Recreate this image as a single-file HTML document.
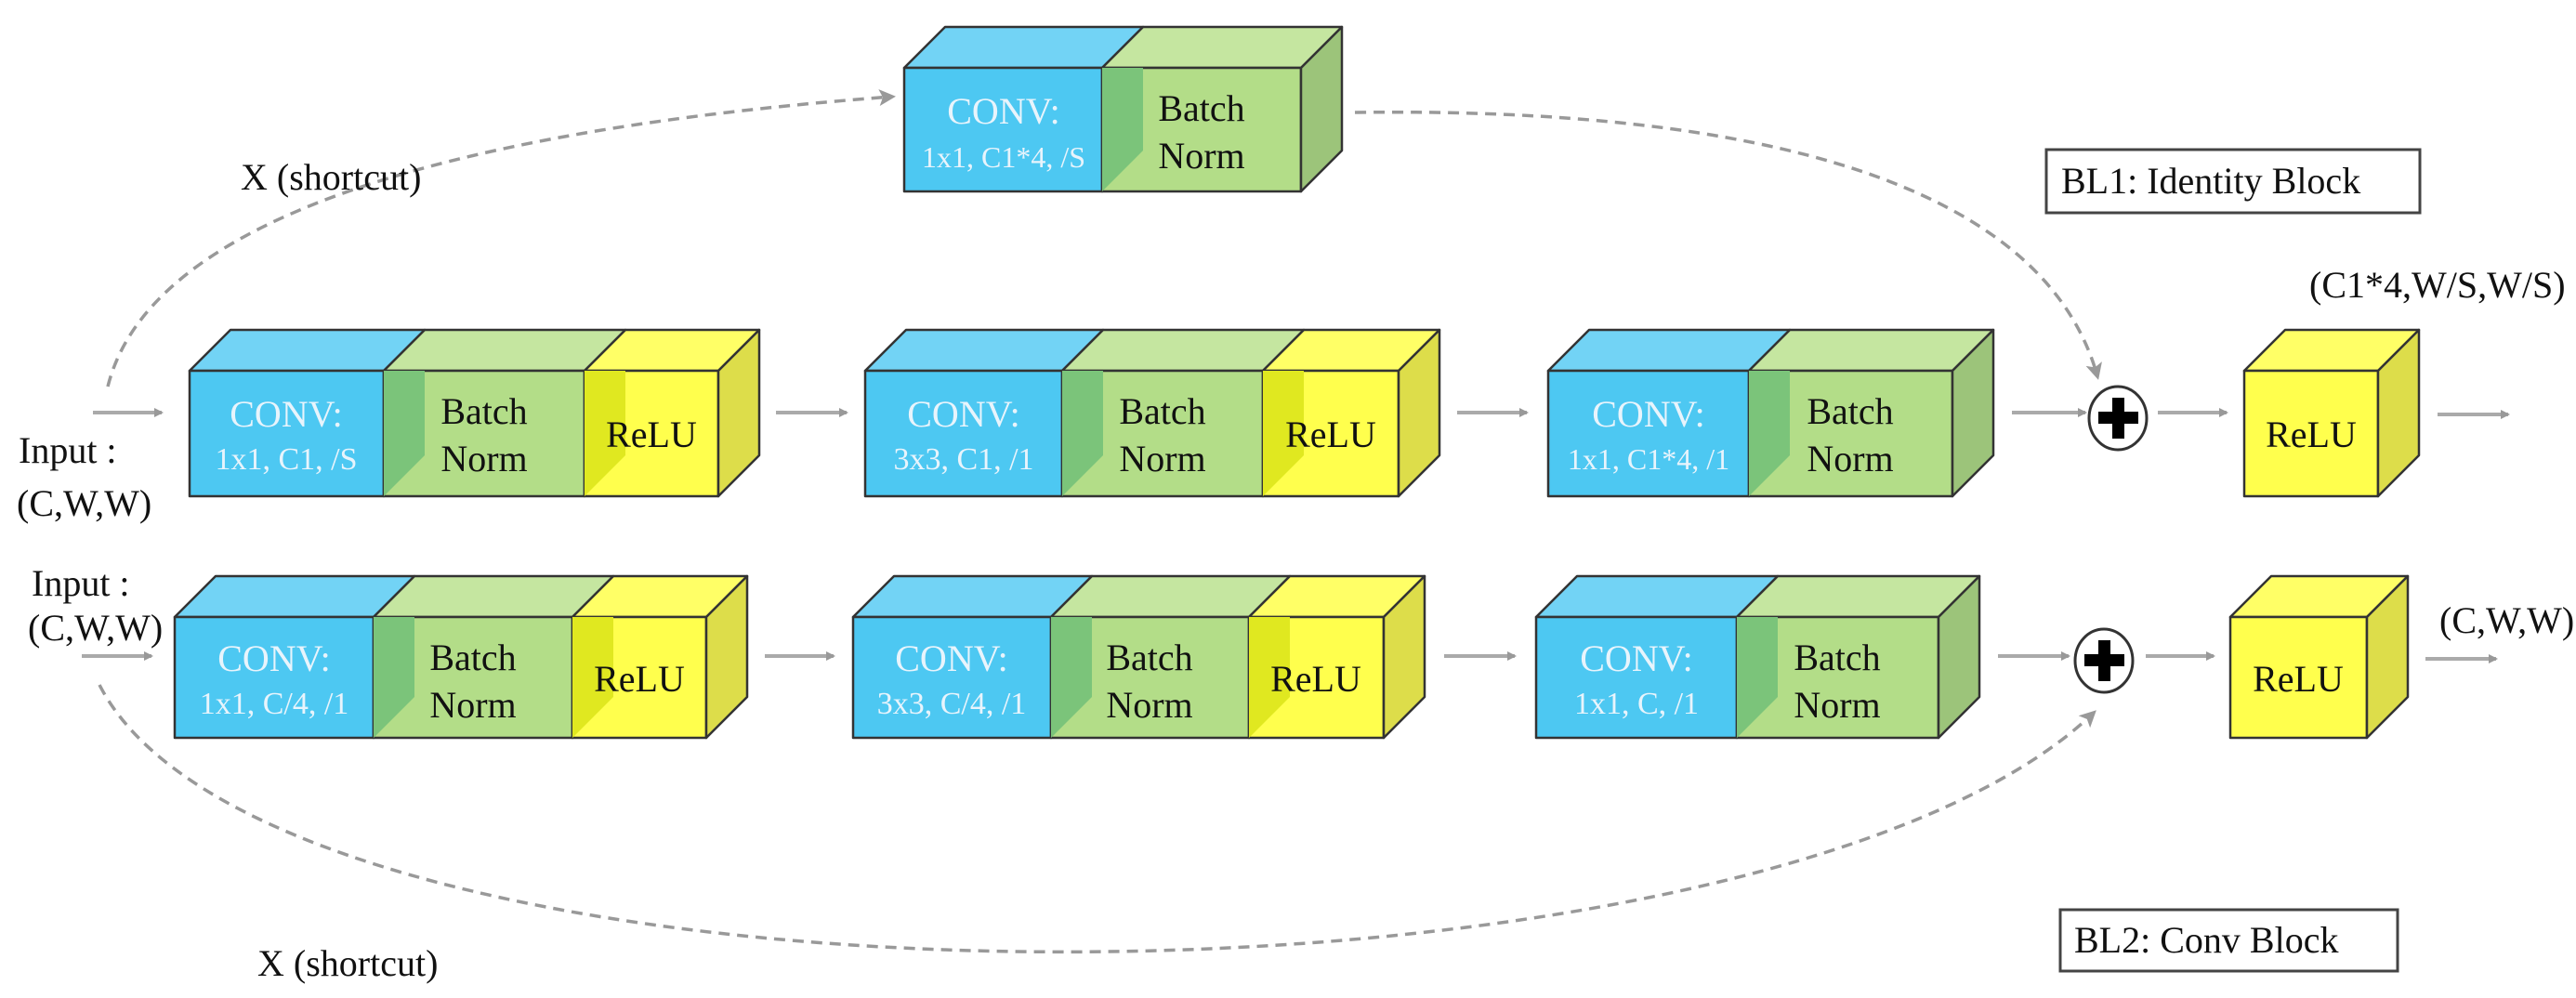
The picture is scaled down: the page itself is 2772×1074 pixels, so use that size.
<!DOCTYPE html>
<html><head><meta charset="utf-8"><style>
html,body{margin:0;padding:0;background:#fff;}
svg{display:block;}
text{font-family:"Liberation Serif",serif;}
</style></head><body>
<svg width="2772" height="1074" viewBox="0 0 2772 1074" xmlns="http://www.w3.org/2000/svg">
<defs>
<marker id="ah" markerWidth="10" markerHeight="10" refX="8" refY="5" orient="auto" markerUnits="userSpaceOnUse" viewBox="0 0 10 10">
<path d="M0,0 L10,5 L0,10 z" fill="#999"/></marker>
<marker id="ah2" markerWidth="18" markerHeight="18" refX="14" refY="9" orient="auto" markerUnits="userSpaceOnUse" viewBox="0 0 18 18">
<path d="M0,0 L18,9 L0,18 L4,9 z" fill="#999"/></marker>
</defs>
<g stroke="#333" stroke-width="2.5" stroke-linejoin="round">

<polygon points="973,73 1017,29 1230,29 1186,73" fill="#72D3F5"/>
<rect x="973" y="73" width="213" height="133" fill="#4DC8F2"/>
<polygon points="1186,73 1230,29 1444,29 1400,73" fill="#C5E6A0"/>
<rect x="1186" y="73" width="214" height="133" fill="#B3DD88"/>
<polygon points="1186,73 1230,73 1230,162 1186,206" fill="#7BC47A" stroke="none"/>
<polygon points="1400,73 1444,29 1444,162 1400,206" fill="#9CC47A"/>

<polygon points="204,399 248,355 457,355 413,399" fill="#72D3F5"/>
<rect x="204" y="399" width="209" height="135" fill="#4DC8F2"/>
<polygon points="413,399 457,355 673,355 629,399" fill="#C5E6A0"/>
<rect x="413" y="399" width="216" height="135" fill="#B3DD88"/>
<polygon points="413,399 457,399 457,490 413,534" fill="#7BC47A" stroke="none"/>
<polygon points="629,399 673,355 817,355 773,399" fill="#FFFF66"/>
<rect x="629" y="399" width="144" height="135" fill="#FFFF4D"/>
<polygon points="629,399 673,399 673,490 629,534" fill="#E0E820" stroke="none"/>
<polygon points="773,399 817,355 817,490 773,534" fill="#DDDD4A"/>

<polygon points="931,399 975,355 1187,355 1143,399" fill="#72D3F5"/>
<rect x="931" y="399" width="212" height="135" fill="#4DC8F2"/>
<polygon points="1143,399 1187,355 1403,355 1359,399" fill="#C5E6A0"/>
<rect x="1143" y="399" width="216" height="135" fill="#B3DD88"/>
<polygon points="1143,399 1187,399 1187,490 1143,534" fill="#7BC47A" stroke="none"/>
<polygon points="1359,399 1403,355 1549,355 1505,399" fill="#FFFF66"/>
<rect x="1359" y="399" width="146" height="135" fill="#FFFF4D"/>
<polygon points="1359,399 1403,399 1403,490 1359,534" fill="#E0E820" stroke="none"/>
<polygon points="1505,399 1549,355 1549,490 1505,534" fill="#DDDD4A"/>

<polygon points="1666,399 1710,355 1926,355 1882,399" fill="#72D3F5"/>
<rect x="1666" y="399" width="216" height="135" fill="#4DC8F2"/>
<polygon points="1882,399 1926,355 2145,355 2101,399" fill="#C5E6A0"/>
<rect x="1882" y="399" width="219" height="135" fill="#B3DD88"/>
<polygon points="1882,399 1926,399 1926,490 1882,534" fill="#7BC47A" stroke="none"/>
<polygon points="2101,399 2145,355 2145,490 2101,534" fill="#9CC47A"/>

<polygon points="2415,399 2459,355 2603,355 2559,399" fill="#FFFF66"/>
<rect x="2415" y="399" width="144" height="135" fill="#FFFF4D"/>
<polygon points="2559,399 2603,355 2603,490 2559,534" fill="#DDDD4A"/>

<polygon points="188,664 232,620 446,620 402,664" fill="#72D3F5"/>
<rect x="188" y="664" width="214" height="130" fill="#4DC8F2"/>
<polygon points="402,664 446,620 660,620 616,664" fill="#C5E6A0"/>
<rect x="402" y="664" width="214" height="130" fill="#B3DD88"/>
<polygon points="402,664 446,664 446,750 402,794" fill="#7BC47A" stroke="none"/>
<polygon points="616,664 660,620 804,620 760,664" fill="#FFFF66"/>
<rect x="616" y="664" width="144" height="130" fill="#FFFF4D"/>
<polygon points="616,664 660,664 660,750 616,794" fill="#E0E820" stroke="none"/>
<polygon points="760,664 804,620 804,750 760,794" fill="#DDDD4A"/>

<polygon points="918,664 962,620 1175,620 1131,664" fill="#72D3F5"/>
<rect x="918" y="664" width="213" height="130" fill="#4DC8F2"/>
<polygon points="1131,664 1175,620 1388,620 1344,664" fill="#C5E6A0"/>
<rect x="1131" y="664" width="213" height="130" fill="#B3DD88"/>
<polygon points="1131,664 1175,664 1175,750 1131,794" fill="#7BC47A" stroke="none"/>
<polygon points="1344,664 1388,620 1533,620 1489,664" fill="#FFFF66"/>
<rect x="1344" y="664" width="145" height="130" fill="#FFFF4D"/>
<polygon points="1344,664 1388,664 1388,750 1344,794" fill="#E0E820" stroke="none"/>
<polygon points="1489,664 1533,620 1533,750 1489,794" fill="#DDDD4A"/>

<polygon points="1653,664 1697,620 1913,620 1869,664" fill="#72D3F5"/>
<rect x="1653" y="664" width="216" height="130" fill="#4DC8F2"/>
<polygon points="1869,664 1913,620 2130,620 2086,664" fill="#C5E6A0"/>
<rect x="1869" y="664" width="217" height="130" fill="#B3DD88"/>
<polygon points="1869,664 1913,664 1913,750 1869,794" fill="#7BC47A" stroke="none"/>
<polygon points="2086,664 2130,620 2130,750 2086,794" fill="#9CC47A"/>

<polygon points="2400,664 2444,620 2591,620 2547,664" fill="#FFFF66"/>
<rect x="2400" y="664" width="147" height="130" fill="#FFFF4D"/>
<polygon points="2547,664 2591,620 2591,750 2547,794" fill="#DDDD4A"/>
</g>

<g stroke="#aaa" stroke-width="4" fill="none" marker-end="url(#ah)">
<line x1="100" y1="444" x2="174" y2="444"/>
<line x1="835" y1="444" x2="911" y2="444"/>
<line x1="1568" y1="444" x2="1643" y2="444"/>
<line x1="2165" y1="444" x2="2244" y2="444"/>
<line x1="2322" y1="444" x2="2396" y2="444"/>
<line x1="2623" y1="446" x2="2699" y2="446"/>
<line x1="88" y1="706" x2="163" y2="706"/>
<line x1="823" y1="706" x2="897" y2="706"/>
<line x1="1554" y1="706" x2="1630" y2="706"/>
<line x1="2150" y1="706" x2="2226" y2="706"/>
<line x1="2309" y1="706" x2="2382" y2="706"/>
<line x1="2610" y1="709" x2="2686" y2="709"/>
</g>
<g stroke="#999" stroke-width="3.5" fill="none" stroke-dasharray="12,8" marker-end="url(#ah2)">
<path d="M116,416 C150,280 350,150 960,104"/>
<path d="M1458,121 C1900,115 2200,200 2257,405"/>
<path d="M107,737 C300,1115 1890,1115 2253,767"/>
</g>

<g>
<ellipse cx="2279" cy="450" rx="31" ry="34" fill="#fff" stroke="#333" stroke-width="3"/>
<rect x="2273" y="428" width="13" height="44" fill="#000"/>
<rect x="2258" y="443" width="43" height="13" fill="#000"/>
<ellipse cx="2264" cy="711" rx="31" ry="34" fill="#fff" stroke="#333" stroke-width="3"/>
<rect x="2258" y="689" width="13" height="44" fill="#000"/>
<rect x="2243" y="704" width="43" height="13" fill="#000"/>
</g>

<rect x="2202" y="161" width="402" height="68" fill="#fff" stroke="#444" stroke-width="3"/>
<rect x="2217" y="979" width="363" height="66" fill="#fff" stroke="#444" stroke-width="3"/>

<g font-size="40" text-anchor="middle" fill="#E8F4FC">
<text x="1080" y="133">CONV:</text>
<text x="1080" y="180" font-size="32">1x1, C1*4, /S</text>
<text x="308" y="459">CONV:</text>
<text x="308" y="505" font-size="34">1x1, C1, /S</text>
<text x="1037" y="459">CONV:</text>
<text x="1037" y="505" font-size="34">3x3, C1, /1</text>
<text x="1774" y="459">CONV:</text>
<text x="1774" y="505" font-size="32">1x1, C1*4, /1</text>
<text x="295" y="722">CONV:</text>
<text x="295" y="768" font-size="34">1x1, C/4, /1</text>
<text x="1024" y="722">CONV:</text>
<text x="1024" y="768" font-size="34">3x3, C/4, /1</text>
<text x="1761" y="722">CONV:</text>
<text x="1761" y="768" font-size="34">1x1, C, /1</text>
</g>
<g font-size="40" text-anchor="middle" fill="#111">
<text x="1293" y="130">Batch</text><text x="1293" y="181">Norm</text>
<text x="521" y="456">Batch</text><text x="521" y="507">Norm</text>
<text x="1251" y="456">Batch</text><text x="1251" y="507">Norm</text>
<text x="1991" y="456">Batch</text><text x="1991" y="507">Norm</text>
<text x="509" y="721">Batch</text><text x="509" y="772">Norm</text>
<text x="1237" y="721">Batch</text><text x="1237" y="772">Norm</text>
<text x="1977" y="721">Batch</text><text x="1977" y="772">Norm</text>
<text x="701" y="481">ReLU</text>
<text x="1432" y="481">ReLU</text>
<text x="2487" y="481">ReLU</text>
<text x="688" y="744">ReLU</text>
<text x="1416" y="744">ReLU</text>
<text x="2473" y="744">ReLU</text>
</g>
<g font-size="40" fill="#111">
<text x="259" y="204">X (shortcut)</text>
<text x="277" y="1050">X (shortcut)</text>
<text x="2218" y="208">BL1: Identity Block</text>
<text x="2232" y="1025">BL2: Conv Block</text>
<text x="2485" y="320">(C1*4,W/S,W/S)</text>
<text x="2625" y="681">(C,W,W)</text>
<text x="20" y="498">Input :</text>
<text x="18" y="555">(C,W,W)</text>
<text x="34" y="641">Input :</text>
<text x="30" y="689">(C,W,W)</text>
</g>
</svg>
</body></html>
